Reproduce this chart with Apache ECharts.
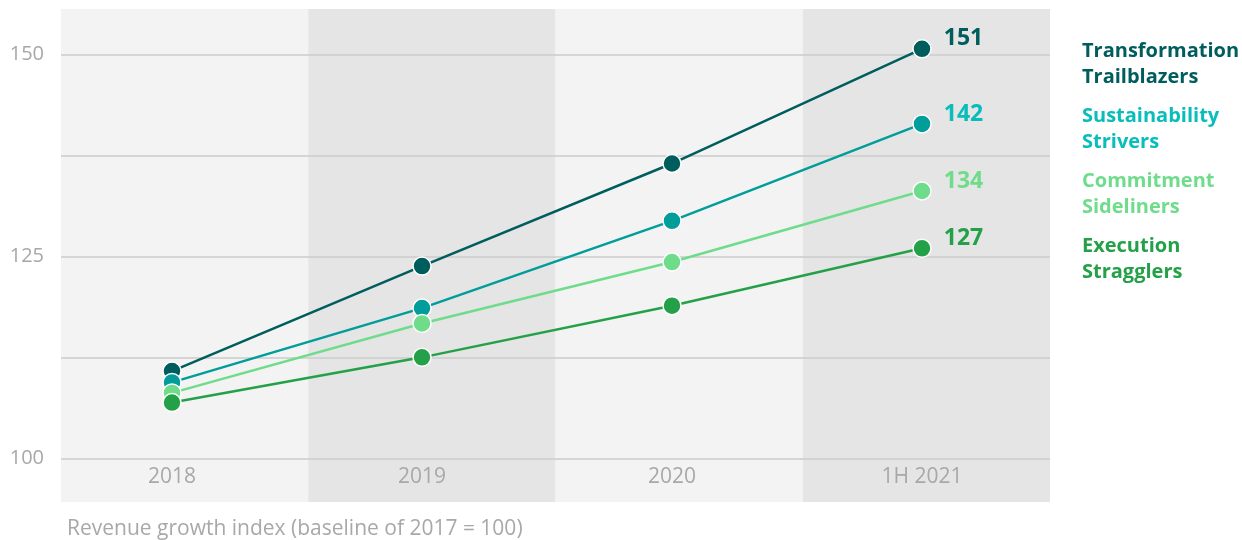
<!DOCTYPE html>
<html>
<head>
<meta charset="utf-8">
<script src="https://cdn.jsdelivr.net/npm/echarts@6/dist/echarts.min.js"></script>
<style>
html,body{margin:0;padding:0;background:#fff;}
#chart{width:1242px;height:540px;}
</style>
</head>
<body>
<div id="chart"></div>
<script>
const categories = ['2018', '2019', '2020', '1H 2021'];
const seriesNames = ['Transformation Trailblazers', 'Sustainability Strivers', 'Commitment Sideliners', 'Execution Stragglers'];
const transformation = [110.8, 123.8, 136.5, 150.7];
const sustainability = [109.4, 118.6, 129.4, 141.4];
const commitment = [108.1, 116.7, 124.3, 133.1];
const execution = [106.9, 112.5, 118.9, 126.0];
const endLabels = [151, 142, 134, 127];
const yTickLabels = [100, 125, 150];
const axisTitle = 'Revenue growth index (baseline of 2017 = 100)';

const lineColors = ['#005d5d', '#009d9a', '#6fdc8c', '#24a148'];
const textColors = ['#005d5d', '#08bdba', '#6fdc8c', '#24a148'];
const FONT = '"Open Sans", "Noto Sans", sans-serif';
const allValues = [transformation, sustainability, commitment, execution];

const chart = echarts.init(document.getElementById('chart'), null, {renderer: 'canvas'});

const series = allValues.map((vals, k) => ({
  name: seriesNames[k],
  type: 'line',
  xAxisIndex: 2,
  yAxisIndex: 2,
  z: 3 + k,
  clip: false,
  symbol: 'circle',
  symbolSize: 18,
  lineStyle: {color: lineColors[k], width: 2.5},
  itemStyle: {color: lineColors[k], borderColor: '#ffffff', borderWidth: 1.5},
  emphasis: {disabled: true},
  animation: false,
  data: vals.map((v, i) => i === vals.length - 1 ? {
    value: v,
    label: {
      show: true,
      position: 'right',
      distance: 12,
      offset: [0, -10],
      formatter: String(endLabels[k]),
      color: textColors[k],
      fontSize: 23,
      fontWeight: 'bold',
      fontFamily: FONT
    }
  } : v)
}));

const option = {
  animation: false,
  title: {
    text: axisTitle,
    left: 62,
    top: 514,
    textStyle: {color: '#a8a8a8', fontSize: 21, fontWeight: 'normal', fontFamily: FONT}
  },
  legend: {
    orient: 'vertical',
    left: 1072,
    top: 33,
    icon: 'none',
    itemWidth: 0,
    itemGap: 13,
    selectedMode: false,
    formatter: n => n.replace(' ', '\n'),
    textStyle: {fontSize: 20, fontWeight: 'bold', lineHeight: 26, fontFamily: FONT},
    data: seriesNames.map((n, i) => ({name: n, textStyle: {color: textColors[i]}}))
  },
  grid: [
    {left: 61, top: 9, width: 989, height: 493},
    {left: 61, top: 54.5, width: 989, height: 403.8},
    {left: 47, top: 54.5, width: 1000, height: 403.8}
  ],
  xAxis: [
    {
      gridIndex: 0, type: 'category', data: categories, boundaryGap: true, z: 0,
      axisLine: {show: false}, axisTick: {show: false}, axisLabel: {show: false},
      splitLine: {show: false},
      splitArea: {show: true, areaStyle: {color: ['#f3f3f3', '#e5e5e5']}}
    },
    {gridIndex: 1, type: 'category', data: categories, show: false},
    {
      gridIndex: 2, type: 'category', data: categories, boundaryGap: true, z: 2,
      axisLine: {show: false}, axisTick: {show: false}, splitLine: {show: false},
      axisLabel: {color: '#a8a8a8', fontSize: 21, margin: 8, fontFamily: FONT}
    }
  ],
  yAxis: [
    {gridIndex: 0, type: 'value', min: 0, max: 1, show: false},
    {
      gridIndex: 1, type: 'value', min: 100, max: 150, interval: 12.5, z: 2,
      axisLine: {show: false}, axisTick: {show: false},
      splitLine: {show: true, lineStyle: {color: '#cbcbcb', width: 1.5}},
      axisLabel: {
        color: '#a8a8a8', fontSize: 20, margin: 17, fontFamily: FONT,
        formatter: v => yTickLabels.includes(v) ? String(v) : ''
      }
    },
    {gridIndex: 2, type: 'value', min: 100, max: 150, show: false}
  ],
  series: series
};
chart.setOption(option);
</script>
</body>
</html>
